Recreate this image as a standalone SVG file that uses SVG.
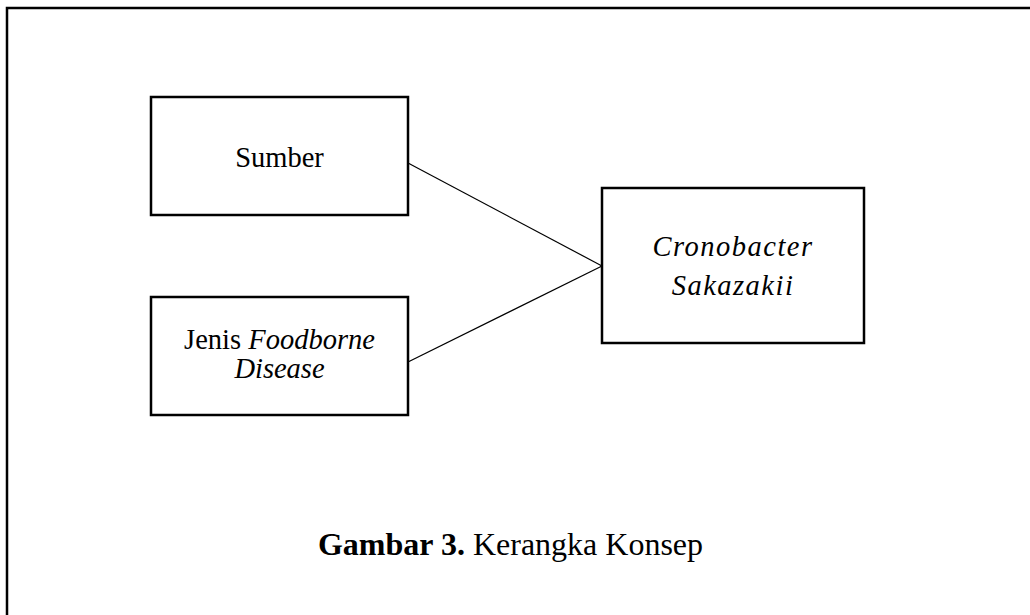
<svg xmlns="http://www.w3.org/2000/svg" width="1030" height="615" viewBox="0 0 1030 615">
<style>
.box{fill:#fff;stroke:#000;stroke-width:2.5}
.t{font-family:"Liberation Serif","Times New Roman",serif;font-size:28.5px;fill:#000}
.cap{font-size:32px}
.conn{stroke:#000;stroke-width:1.2;fill:none}
</style>
<rect width="1030" height="615" fill="#fff"/>
<rect x="7" y="8" width="1040" height="630" fill="none" stroke="#000" stroke-width="2.5"/>
<g id="connectors">
<line class="conn" x1="408" y1="163" x2="602" y2="266"/>
<line class="conn" x1="408" y1="362" x2="602" y2="266"/>
</g>
<g id="sumber">
<rect class="box" x="151" y="97" width="257" height="118"/>
<text class="t" x="279.5" y="167" text-anchor="middle">Sumber</text>
</g>
<g id="jenis">
<rect class="box" x="151" y="297" width="257" height="118"/>
<text class="t" x="279.5" y="349" text-anchor="middle">Jenis <tspan font-style="italic">Foodborne</tspan></text>
<text class="t" x="279.5" y="378" text-anchor="middle" font-style="italic">Disease</text>
</g>
<g id="cronobacter">
<rect class="box" x="602" y="188" width="262" height="155"/>
<text class="t" x="733" y="256" text-anchor="middle" font-style="italic" letter-spacing="1.5">Cronobacter</text>
<text class="t" x="733" y="295" text-anchor="middle" font-style="italic" letter-spacing="1.5">Sakazakii</text>
</g>
<g id="caption">
<text class="t cap" x="510.5" y="555" text-anchor="middle"><tspan font-weight="bold">Gambar 3.</tspan> Kerangka Konsep</text>
</g>
</svg>
